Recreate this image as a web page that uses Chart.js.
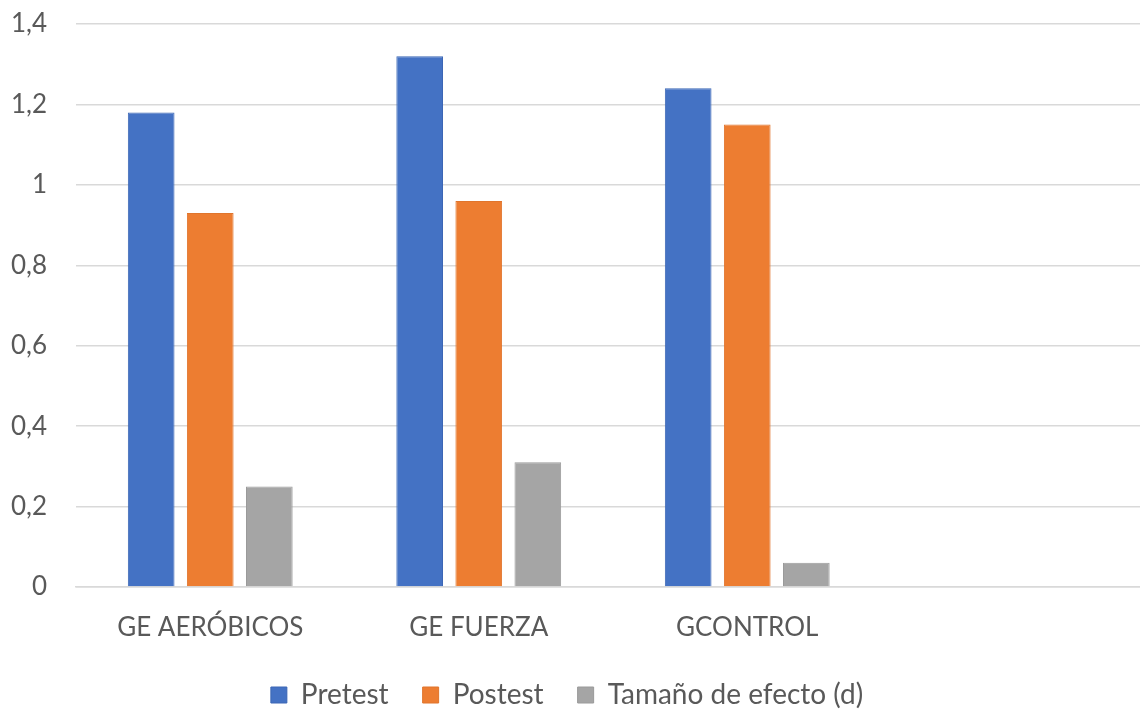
<!DOCTYPE html>
<html>
<head>
<meta charset="utf-8">
<script src="https://cdn.jsdelivr.net/npm/chart.js@4/dist/chart.umd.min.js"></script>
<style>
  html, body { margin: 0; padding: 0; background: #fff; overflow: hidden; }
  #wrap { width: 1152px; height: 711px; }
</style>
</head>
<body>
<div id="wrap"><canvas id="chart"></canvas></div>
<script>
// categories (the 4th slot is empty in the original)
const groups   = ["GE AERÓBICOS", "GE FUERZA", "GCONTROL", ""];
const pretest  = [1.18, 1.32, 1.24, null];
const postest  = [0.93, 0.96, 1.15, null];
const efecto   = [0.25, 0.31, 0.06, null];
const yTickLabels = ["0", "0,2", "0,4", "0,6", "0,8", "1", "1,2", "1,4"];

const FONT = "Lato, 'Open Sans', sans-serif";
const TXT  = "#595959";

// legend needs wide gaps between items but a short box, so fix its height
// and nudge it a bit left/down (the original is centred on the visible width)
const legendTweak = {
  id: "legendTweak",
  afterInit(chart) {
    const lg = chart.legend;
    if (!lg || lg._wrapped) return;
    const fit = lg.fit;
    lg.fit = function () { fit.call(this); this.height = 68; };
    lg._wrapped = true;
  },
  afterLayout(chart) {
    const lg = chart.legend;
    lg.left -= 13; lg.right -= 13;
    lg.top += 4; lg.bottom += 4;
  }
};

new Chart(document.getElementById("chart"), {
  type: "bar",
  data: {
    labels: groups,
    datasets: [
      { label: "Pretest", data: pretest, backgroundColor: "#4472C4", borderColor: "#3C67B5", borderWidth: 1 },
      { label: "Postest", data: postest, backgroundColor: "#ED7D31", borderColor: "#E0752D", borderWidth: 1 },
      { label: "Tamaño de efecto (d)", data: efecto, backgroundColor: "#A5A5A5", borderColor: "#9A9A9A", borderWidth: 1 }
    ]
  },
  plugins: [legendTweak],
  options: {
    responsive: true,
    maintainAspectRatio: false,
    animation: false,
    categoryPercentage: 0.66,
    barPercentage: 0.79,
    layout: { padding: { top: 24, left: 10, right: 2, bottom: 0 } },
    plugins: {
      tooltip: { enabled: false },
      legend: {
        position: "bottom",
        labels: {
          boxWidth: 16, boxHeight: 16, padding: 34,
          color: TXT, font: { family: FONT, size: 28 }
        }
      }
    },
    scales: {
      x: {
        grid: { display: false, drawTicks: false },
        border: { display: true, color: "#d9d9d9", width: 1.5 },
        ticks: { color: TXT, padding: 25, font: { family: FONT, size: 26 } },
        afterFit: s => { s.height = 56; }
      },
      y: {
        min: 0, max: 1.4,
        grid: { color: "#d9d9d9", lineWidth: 1.5, drawTicks: false },
        border: { display: false },
        ticks: {
          stepSize: 0.2, padding: 29, color: TXT,
          font: { family: FONT, size: 26 },
          callback: (v, i) => yTickLabels[i]
        },
        afterFit: s => { s.width = 66; s.paddingTop = 0; s.paddingBottom = 0; }
      }
    }
  }
});
</script>
</body>
</html>
